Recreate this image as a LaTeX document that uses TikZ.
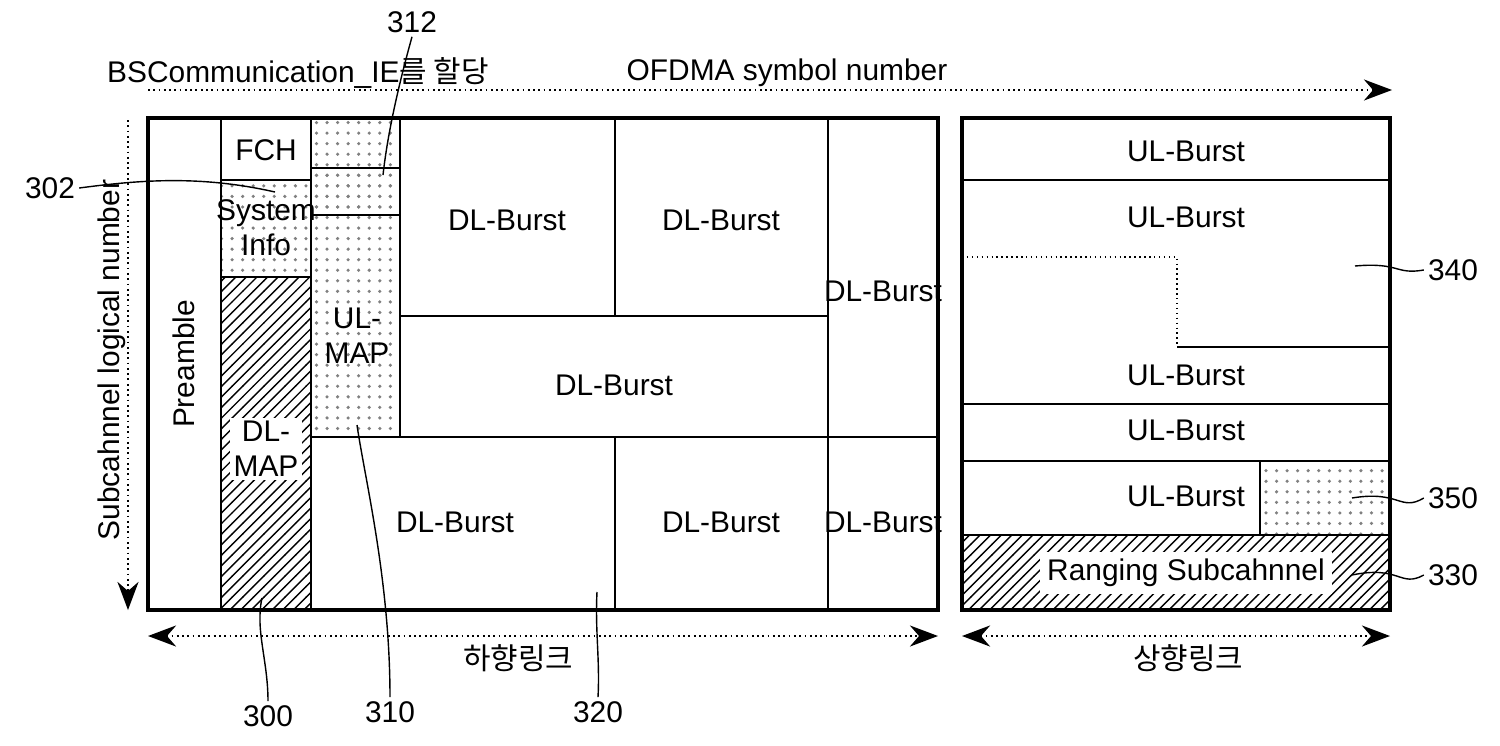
\documentclass[tikz,border=0pt]{standalone}
\usepackage{fontspec}
\setmainfont{Liberation Sans}
\newfontfamily\krfont{Noto Sans CJK KR}
\usetikzlibrary{patterns,arrows.meta}
\begin{document}
\begin{tikzpicture}[x=0.01cm,y=-0.01cm,
  lbl/.style={font=\fontsize{8.5}{10}\selectfont,align=center,inner sep=1pt},
  cell/.style={draw,line width=0.4pt},
  thick frame/.style={draw,line width=1.4pt},
  dotfill/.style={pattern=dots,pattern color=gray},
  hatch/.style={pattern=north east lines},
  lead/.style={line width=0.4pt},
  arr/.style={line width=0.5pt,densely dotted,-{Stealth[length=8pt,width=6pt]}},
  darr/.style={line width=0.5pt,densely dotted,{Stealth[length=8pt,width=6pt]}-{Stealth[length=8pt,width=6pt]}}]
\useasboundingbox (0,0) rectangle (1500,745);
% left cells
\path[hatch] (221,277) rectangle (311,610);
\path[dotfill] (221,180) rectangle (311,277);
\path[dotfill] (311,118) rectangle (400,437);
\path[dotfill] (311,168) rectangle (400,215);
\draw[cell] (221,118) -- (221,610) (311,118) -- (311,610) (400,118) -- (400,437)
  (221,180) -- (311,180) (221,277) -- (311,277) (311,168) -- (400,168) (311,215) -- (400,215)
  (615,118) -- (615,316) (828,118) -- (828,610) (400,316) -- (828,316) (311,437) -- (938,437) (615,437) -- (615,610);
\draw[thick frame] (148,118) rectangle (938,610);
\node[lbl,rotate=90] (pre) at (184,364) {Preamble};
\node[lbl] (fch) at (266,150) {FCH};
\node[lbl] (sys) at (266,228) {System\\Info};
\node[lbl,fill=white] (dlmap) at (266,449) {DL-\\MAP};
\node[lbl] (ulmap) at (357,336) {UL-\\MAP};
\node[lbl] (d1) at (507,220) {DL-Burst};
\node[lbl] (d2) at (721,220) {DL-Burst};
\node[lbl] (d3) at (883,291) {DL-Burst};
\node[lbl] (d4) at (614,385) {DL-Burst};
\node[lbl] (d5) at (455,522) {DL-Burst};
\node[lbl] (d6) at (721,522) {DL-Burst};
\node[lbl] (d7) at (883,522) {DL-Burst};
% right cells
\path[hatch] (962,535) rectangle (1390,610);
\path[dotfill] (1260,461) rectangle (1390,535);
\draw[cell] (962,180) -- (1390,180) (962,404) -- (1390,404) (962,461) -- (1390,461) (962,535) -- (1390,535)
  (1260,461) -- (1260,535) (1177,347) -- (1390,347);
\draw[cell,densely dotted] (962,257) -- (1177,257) -- (1177,347);
\draw[thick frame] (962,118) rectangle (1390,610);
\node[lbl] (u1) at (1186,151) {UL-Burst};
\node[lbl] (u2) at (1186,217) {UL-Burst};
\node[lbl] (u3) at (1186,375) {UL-Burst};
\node[lbl] (u4) at (1186,430) {UL-Burst};
\node[lbl] (u5) at (1186,496) {UL-Burst};
\node[lbl,fill=white,inner sep=2pt] (rng) at (1186,573) {Ranging Subcahnnel};
% axes
\coordinate (ta) at (148,90); \coordinate (tb) at (1392,90);
\draw[arr] (ta) -- (tb);
\node[lbl,anchor=west] (bsc) at (103,73) {BSCommunication\_IE{\krfont 를 할당}};
\node[lbl] (ofdma) at (787,73) {OFDMA symbol number};
\coordinate (la) at (128,120); \coordinate (lb) at (128,610);
\draw[arr] (la) -- (lb);
\node[lbl,rotate=90] (sub) at (112,360) {Subcahnnel logical number};
\coordinate (b1) at (148,636); \coordinate (b2) at (938,636);
\coordinate (b3) at (962,636); \coordinate (b4) at (1390,636);
\draw[darr] (b1) -- (b2);
\draw[darr] (b3) -- (b4);
\node[lbl] (dl) at (518,658) {\krfont 하향링크};
\node[lbl] (ul) at (1188,658) {\krfont 상향링크};
% callouts
\node[lbl] (n302) at (50,188) {302};
\coordinate (c302) at (275,192);
\draw[lead] (n302.east) .. controls (140,180) and (200,175) .. (c302);
\node[lbl] (n312) at (412,22) {312};
\coordinate (c312) at (383,175);
\draw[lead] (n312.south) .. controls (400,80) and (388,130) .. (c312);
\node[lbl] (n300) at (268,716) {300};
\coordinate (c300) at (262,598);
\draw[lead] (n300.north) .. controls (268,660) and (255,630) .. (c300);
\node[lbl] (n310) at (390,712) {310};
\coordinate (c310) at (357,425);
\draw[lead] (n310.north) .. controls (390,580) and (365,480) .. (c310);
\node[lbl] (n320) at (598,712) {320};
\coordinate (c320) at (597,592);
\draw[lead] (n320.north) .. controls (600,660) and (595,630) .. (c320);
\node[lbl] (n340) at (1453,270) {340};
\coordinate (c340) at (1355,266);
\draw[lead] (c340) .. controls (1400,262) and (1395,275) .. (n340.west);
\node[lbl] (n350) at (1453,498) {350};
\coordinate (c350) at (1352,498);
\draw[lead] (c350) .. controls (1400,490) and (1400,512) .. (n350.west);
\node[lbl] (n330) at (1453,575) {330};
\coordinate (c330) at (1352,575);
\draw[lead] (c330) .. controls (1400,565) and (1400,588) .. (n330.west);
\end{tikzpicture}
\end{document}
